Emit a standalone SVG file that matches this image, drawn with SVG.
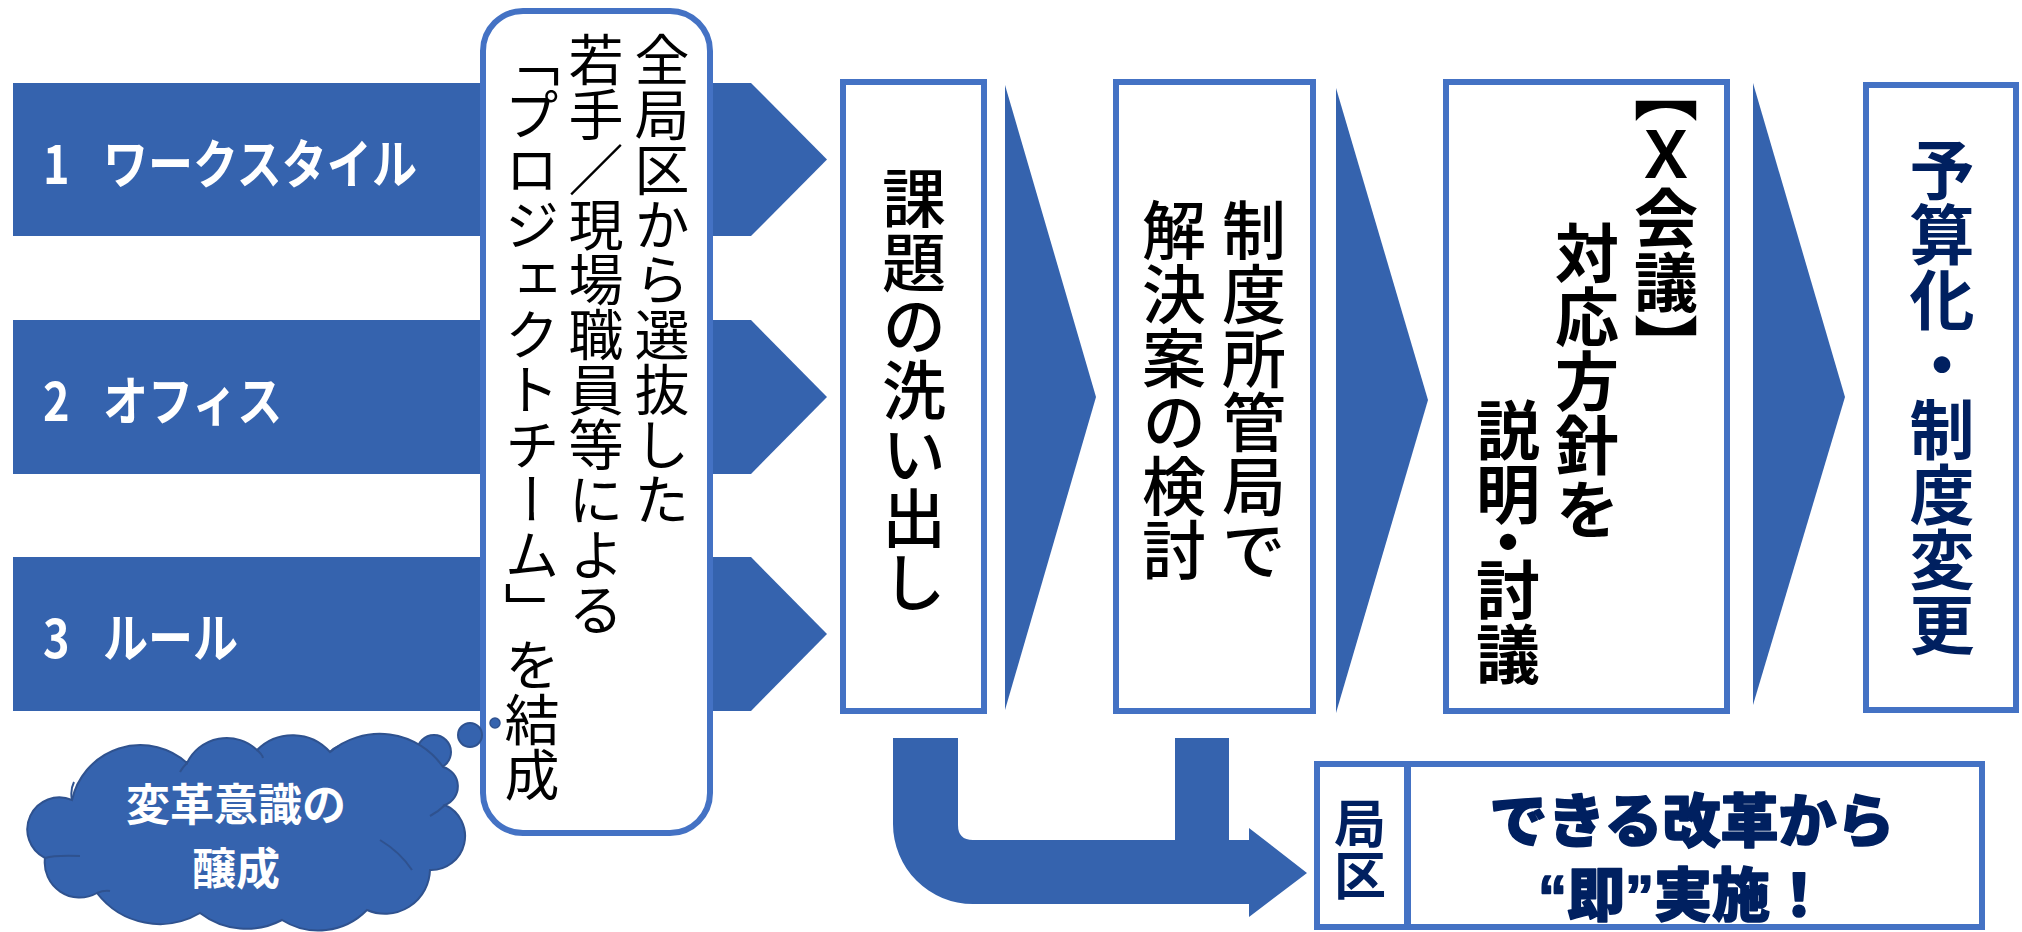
<svg xmlns="http://www.w3.org/2000/svg" width="2022" height="932" viewBox="0 0 2022 932">
<style>
.arr{fill:#3563ae}
.box{fill:#fff;stroke:#4472c4;stroke-width:6}
.v{writing-mode:vertical-rl;font-family:"Noto Sans CJK JP",sans-serif}
.lbl{font-family:"Noto Sans CJK JP",sans-serif;font-weight:700;fill:#fff}
.navy{fill:#002060}
.blk{fill:#000}
.heavy{stroke:#002060;stroke-width:1.6;stroke-linejoin:round}
</style>
<rect width="2022" height="932" fill="#fff"/>
<g id="row1">
<path class="arr" d="M13,83 H751 L827,159.5 L751,236 H13 Z"/>
<text class="lbl" transform="translate(43,160) scale(0.85,1)" font-size="53" dominant-baseline="central"><tspan x="0">1</tspan><tspan x="70.6">ワークスタイル</tspan></text>
</g>
<g id="row2">
<path class="arr" d="M13,320 H751 L827,397 L751,474 H13 Z"/>
<text class="lbl" transform="translate(43,397) scale(0.85,1)" font-size="53" dominant-baseline="central"><tspan x="0">2</tspan><tspan x="70.6">オフィス</tspan></text>
</g>
<g id="row3">
<path class="arr" d="M13,557 H751 L827,634 L751,711 H13 Z"/>
<text class="lbl" transform="translate(43,634) scale(0.85,1)" font-size="53" dominant-baseline="central"><tspan x="0">3</tspan><tspan x="70.6">ルール</tspan></text>
</g>
<g id="team">
<rect class="box" x="483" y="11" width="227" height="822" rx="40" stroke-width="5"/>
<text class="v blk" x="662" y="32" font-size="55">全局区から選抜した</text>
<text class="v blk" x="596" y="32" font-size="55">若手／現場職員等による</text>
<text class="v blk" x="532" y="32" font-size="55">「プロジェクトチーム」を結成</text>
</g>
<g id="cloud">
<circle cx="434" cy="752" r="17" fill="#3563ae" stroke="#2f528f" stroke-width="2"/>
<circle cx="470" cy="735" r="12" fill="#3563ae" stroke="#2f528f" stroke-width="2"/>
<circle cx="495" cy="723" r="5" fill="#3563ae" stroke="#2f528f" stroke-width="1.5"/>
<path fill="#3563ae" stroke="#2f528f" stroke-width="2" d="M45,858 A32,32 0 0 1 72,800 A70,70 0 0 1 187,763 A44,44 0 0 1 257,750 A50,50 0 0 1 330,752 A77,77 0 0 1 443,767 A20,20 0 0 1 445,805 A34,34 0 0 1 430,870 A45,45 0 0 1 367,910 A68,68 0 0 1 282,920 A76,76 0 0 1 200,913 A79,79 0 0 1 97,893 A35,35 0 0 1 45,858 Z"/>
<path fill="none" stroke="#2f528f" stroke-width="2" d="M72,800 Q70,790 74,782 M187,763 Q182,768 180,772 M257,750 Q262,754 263,758 M330,752 Q334,748 339,746 M445,805 Q438,812 430,816 M380,840 Q400,852 412,870 M97,893 Q104,890 110,891 M45,858 Q55,855 80,856"/>
<text class="lbl" x="236" y="802" font-size="44" text-anchor="middle" dominant-baseline="central">変革意識の<tspan x="236" dy="64">醸成</tspan></text>
</g>
<g id="connectors">
<path class="arr" d="M1005,85 L1096,397 L1005,710 Z"/>
<path class="arr" d="M1336,88 L1428,400 L1336,713 Z"/>
<path class="arr" d="M1753,83 L1845,397 L1753,705 Z"/>
<path class="arr" d="M893,738 H958 V825 Q958,840 973,840 H1175 V738 H1229 V840 H1249 V828 L1307,873 L1249,917 V904 H973 A80,80 0 0 1 893,824 Z"/>
</g>
<g id="step1">
<rect class="box" x="843" y="82" width="141" height="629"/>
<text class="v blk" x="914" y="166" font-size="64" font-weight="500">課題の洗い出し</text>
</g>
<g id="step2">
<rect class="box" x="1116" y="82" width="197" height="629"/>
<text class="v blk" x="1254" y="198" font-size="64" font-weight="500">制度所管局で</text>
<text class="v blk" x="1174" y="198" font-size="64" font-weight="500">解決案の検討</text>
</g>
<g id="step3">
<rect class="box" x="1446" y="82" width="281" height="629"/>
<text class="v blk" x="1666" y="58" font-size="64" font-weight="700">【Ｘ会議】</text>
<text class="v blk" x="1587" y="221" font-size="64" font-weight="700">対応方針を</text>
<text class="v blk" x="1508" y="398" font-size="64" font-weight="700" style="font-feature-settings:'vhal'">説明・討議</text>
</g>
<g id="step4">
<rect class="box" x="1866" y="85" width="150" height="625"/>
<text class="v navy" x="1942" y="137" font-size="65" font-weight="700">予算化・制度変更</text>
</g>
<g id="kyokuku">
<rect class="box" x="1317" y="764" width="90" height="163"/>
<text class="v navy" x="1360" y="797" font-size="52" font-weight="700">局区</text>
</g>
<g id="soku">
<rect class="box" x="1408" y="764" width="574" height="163"/>
<text class="navy heavy" x="1692" y="817" font-size="58" font-weight="900" text-anchor="middle" dominant-baseline="central" font-family="'Noto Sans CJK JP',sans-serif">できる改革から</text>
<text class="navy heavy" x="1683" y="895" font-size="58" font-weight="900" text-anchor="middle" dominant-baseline="central" font-family="'Liberation Sans','Noto Sans CJK JP',sans-serif">“即”実施！</text>
</g>
</svg>
